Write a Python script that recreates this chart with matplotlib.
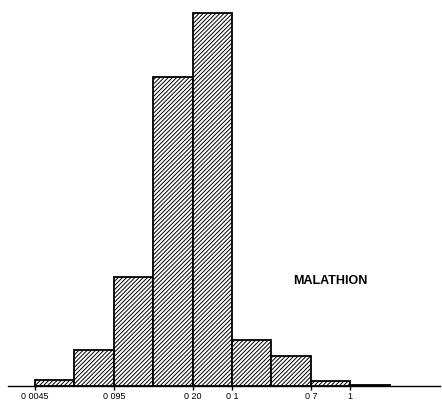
import numpy as np
import matplotlib.pyplot as plt

# Relative frequencies of each concentration class
freq = [6, 36, 109, 309, 373, 46, 30, 5, 1.5]
bins = np.arange(len(freq))

# Class boundaries that carry a label on the axis
tick_pos = [0, 2, 4, 5, 7, 8]
tick_labels = ['0 0045', '0 095', '0 20', '0 1', '0 7', '1']

plt.rcParams['hatch.linewidth'] = 0.7
plt.rcParams['font.family'] = ['Liberation Sans', 'DejaVu Sans']

fig = plt.figure(figsize=(4.42, 4.07), dpi=100)
ax = fig.add_axes([0, 0, 1, 1])

ax.bar(bins, freq, width=1.0, align='edge', color='white',
       edgecolor='black', linewidth=1.3, hatch='////////')

# Baseline
ax.axhline(0, color='black', linewidth=1.0, xmin=0.018, xmax=0.995)

# Tick marks and labels
ax.vlines(tick_pos, -4, 0, color='black', linewidth=1.0)
for p, lab in zip(tick_pos, tick_labels):
    ax.text(p, -6, lab, ha='center', va='top', fontsize=6.5)

ax.text(7.5, 105, 'MALATHION', ha='center', va='center', fontsize=9,
        fontweight='bold')

ax.set_xlim(-0.888, 10.33)
ax.set_ylim(-21, 386)
ax.axis('off')

fig.savefig('out.png', dpi=100)
